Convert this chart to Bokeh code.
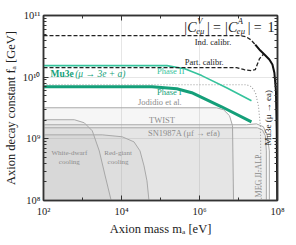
import math
from bokeh.plotting import figure
from bokeh.models import FixedTicker, LogAxis, Label
from bokeh.embed import file_html
from bokeh.resources import INLINE

# ---------------- data (m_a in eV, f_a in GeV) ----------------
ind_m = [1e2, 1.0e7, 1.51e7, 2.04e7, 2.69e7]
ind_f = [4.73e10, 4.73e10, 4.56e10, 4.07e10, 3.37e10]

ea_m = [2.69e7, 3.63e7, 4.90e7, 6.17e7, 7.41e7, 8.32e7, 9.12e7, 9.55e7, 9.89e7]
ea_f = [3.37e10, 2.70e10, 2.24e10, 1.93e10, 1.60e10, 1.18e10, 6.03e9, 1.35e9, 1e8]

part_m = [1e2, 8.9e6, 1.41e7, 2.14e7, 2.69e7, 3.02e7, 3.47e7, 4.37e7]
part_f = [1.43e10, 1.43e10, 1.32e10, 1.28e10, 1.32e10, 1.60e10, 2.0e10, 2.35e10]

ph2_m = [1e2, 1.46e5, 4.19e5, 1.14e6, 4.94e6, 2.15e7]
ph2_f = [1.54e10, 1.54e10, 1.37e10, 1.06e10, 6.75e9, 4.15e9]

ph1_m = [1e2, 6.04e4, 2.62e5, 6.32e5, 3.68e6, 2.15e7]
ph1_f = [7.01e9, 7.01e9, 6.50e9, 5.60e9, 3.31e9, 1.89e9]

meg_m = [1e2, 1.60e7, 2.15e7, 2.72e7, 3.24e7, 3.64e7, 3.86e7]
meg_f = [7.55e9, 7.55e9, 7.01e9, 5.60e9, 3.44e9, 1.63e9, 1e8]

jod_m = [1e2, 2.75e6, 4.14e6, 5.89e6, 7.03e6, 7.45e6]
jod_f = [3.19e9, 3.19e9, 2.96e9, 2.37e9, 1.63e9, 1e8]

twist_m = [1e2, 1.60e7, 2.88e7, 4.35e7, 5.50e7, 6.18e7, 6.18e7]
twist_f = [1.69e9, 1.69e9, 1.75e9, 1.57e9, 1.12e9, 6.38e8, 1e8]

sn_m = [1e2, 3.05e7, 4.09e7, 4.89e7, 5.18e7, 5.18e7]
sn_f = [1.51e9, 1.51e9, 1.40e9, 1.12e9, 6.38e8, 1e8]

wd_m = [1e2, 618, 1110, 1780, 2690, 3820, 5430]
wd_f = [2.04e9, 2.04e9, 1.82e9, 1.35e9, 6.38e8, 2.50e8, 1e8]

rg_m = [1e2, 3200, 1.04e4, 2.09e4, 2.98e4, 3.78e4, 4.50e4, 5.06e4]
rg_f = [1.16e9, 1.16e9, 1.08e9, 8.93e8, 6.38e8, 3.64e8, 2.08e8, 1e8]

x_ticks = [1e2, 1e4, 1e6, 1e8]
x_tick_labels = ["10²", "10⁴", "10⁶", "10⁸"]
y_ticks = [1e8, 1e9, 1e10, 1e11]
y_tick_labels = ["10⁸", "10⁹", "10¹⁰", "10¹¹"]

FONT = "Liberation Serif"
GREEN1 = "#149f79"
GREEN2 = "#35c39c"
GRAY = "#8c8c8c"

p = figure(width=296, height=245, x_axis_type="log", y_axis_type="log",
           x_range=(1e2, 1e8), y_range=(1e8, 1e11),
           output_backend="svg", toolbar_location=None,
           min_border_left=41, min_border_right=19, min_border_top=15,
           min_border_bottom=45)
p.background_fill_color = "white"
p.outline_line_color = "#333333"
p.outline_line_width = 1.5

x_minor = [1e3, 1e5, 1e7]
y_minor = [k * d for d in (1e8, 1e9, 1e10) for k in range(2, 10)]

def style_axis(ax, ticks, minor, labels=None, show=True):
    ax.ticker = FixedTicker(ticks=ticks, minor_ticks=minor)
    ax.major_tick_in = 5
    ax.major_tick_out = 0
    ax.minor_tick_in = 3
    ax.minor_tick_out = 0
    ax.axis_line_color = "#333333"
    ax.axis_line_width = 1.5
    ax.major_tick_line_color = "#333333"
    ax.minor_tick_line_color = "#333333"
    if show:
        ax.major_label_overrides = {t: l for t, l in zip(ticks, labels)}
        ax.major_label_text_font = FONT
        ax.major_label_text_font_size = "10.5px"
        ax.major_label_text_color = "#222222"
        ax.axis_label_text_font = FONT
        ax.axis_label_text_font_style = "normal"
        ax.axis_label_text_font_size = "12.5px"
        ax.axis_label_text_color = "#222222"
    else:
        ax.major_label_text_font_size = "1px"
        ax.major_label_text_alpha = 0
        ax.major_label_standoff = 0

style_axis(p.xaxis[0], x_ticks, x_minor, x_tick_labels)
style_axis(p.yaxis[0], y_ticks, y_minor, y_tick_labels)
p.xaxis[0].major_label_standoff = 5
p.yaxis[0].major_label_standoff = 3
p.xaxis[0].axis_label = "Axion mass mₐ [eV]"
p.yaxis[0].axis_label = "Axion decay constant fₐ [GeV]"
p.xaxis[0].axis_label_standoff = 2
p.yaxis[0].axis_label_standoff = 2

top = LogAxis()
style_axis(top, x_ticks, x_minor, show=False)
p.add_layout(top, "above")
right = LogAxis()
style_axis(right, y_ticks, y_minor, show=False)
p.add_layout(right, "right")

p.xgrid.ticker = FixedTicker(ticks=[1e4, 1e6])
p.ygrid.ticker = FixedTicker(ticks=[1e9, 1e10])
p.xgrid.grid_line_color = "#e6e6e6"
p.ygrid.grid_line_color = "#e6e6e6"

# ---------------- shaded exclusion regions ----------------
for mm, ff in [(jod_m, jod_f), (twist_m, twist_f), (sn_m, sn_f), (wd_m, wd_f), (rg_m, rg_f)]:
    p.patch(mm + [mm[0]], ff + [ff[-1]], fill_color="#999999", fill_alpha=0.09, line_alpha=0)
    p.line(mm, ff, line_color="#a8a8a8", line_width=1)

p.line(meg_m, meg_f, line_color="#9a9a9a", line_width=1.1, line_dash="1 2")

# ---------------- Mu3e lines ----------------
p.line(ph2_m, ph2_f, line_color=GREEN2, line_width=1.6)
p.line(ph1_m, ph1_f, line_color=GREEN1, line_width=3)
p.line(ind_m, ind_f, line_color="#222222", line_width=1.3, line_dash="4 2")
p.line(part_m, part_f, line_color="#222222", line_width=1.3, line_dash="4 2")
p.line(ea_m, ea_f, line_color="#111111", line_width=2)

# ---------------- annotations ----------------
def lab(x, y, text, size, color, style="normal", align="left", baseline="middle", angle=0.0):
    p.add_layout(Label(x=x, y=y, text=text, text_font=FONT, text_font_size=size,
                       text_color=color, text_font_style=style, text_align=align,
                       text_baseline=baseline, angle=angle))

lab(7.55e5, 3.78e10, "Ind. calibr.", "8.5px", "#222222")
lab(4.19e5, 1.79e10, "Part. calibr.", "8.5px", "#222222")
lab(151, 1.14e10, "Mu3e", "9.5px", GREEN1, style="bold")
lab(650, 1.14e10, "(μ → 3e + a)", "9.5px", GREEN1, style="italic")
lab(8.09e4, 1.24e10, "Phase II", "8.5px", GREEN2)
lab(8.09e4, 5.8e9, "Phase I", "8.5px", GREEN1)
lab(2.65e4, 4.0e9, "Jodidio et al.", "8.5px", GRAY)
lab(5.06e4, 2.04e9, "TWIST", "8.5px", GRAY)
lab(4.77e4, 1.25e9, "SN1987A (μf → efa)", "8.5px", GRAY)
lab(460, 5.92e8, "White-dwarf", "7px", GRAY, align="center")
lab(460, 4.23e8, "cooling", "7px", GRAY, align="center")
lab(8190, 5.92e8, "Red-giant", "7px", GRAY, align="center")
lab(8190, 4.23e8, "cooling", "7px", GRAY, align="center")
lab(3.24e7, 2.5e8, "MEG II-ALP", "8px", GRAY, align="center", angle=math.pi / 2)
lab(5.8e7, 2.2e9, "Mu3e (μ → ea)", "9px", "#222222", align="center", angle=math.pi / 2)

# |C^V_eμ| = |C^A_eμ| = 1  (placed from picture pixel positions)
def px_x(x):
    return 10 ** (2 + (x - 41) / 39.33)

def px_y(y):
    return 10 ** (11 - (y - 15) / 61.67)

pieces = [
    ("|", 183, 27, "14px", "normal"),
    ("C", 186, 27, "14px", "italic"),
    ("V", 196, 21, "8.5px", "italic"),
    ("eμ", 195, 31, "8.5px", "italic"),
    ("|", 206, 27, "14px", "normal"),
    ("=", 212, 27, "14px", "normal"),
    ("|", 224, 27, "14px", "normal"),
    ("C", 227, 27, "14px", "italic"),
    ("A", 237, 21, "8.5px", "italic"),
    ("eμ", 236, 31, "8.5px", "italic"),
    ("|", 247, 27, "14px", "normal"),
    ("=", 253, 27, "14px", "normal"),
    ("1", 267, 27, "14px", "normal"),
]
for t, xx, yy, sz, st in pieces:
    lab(px_x(xx), px_y(yy), t, sz, "#222222", style=st, baseline="alphabetic")

open("out.html", "w").write(file_html(p, INLINE))
